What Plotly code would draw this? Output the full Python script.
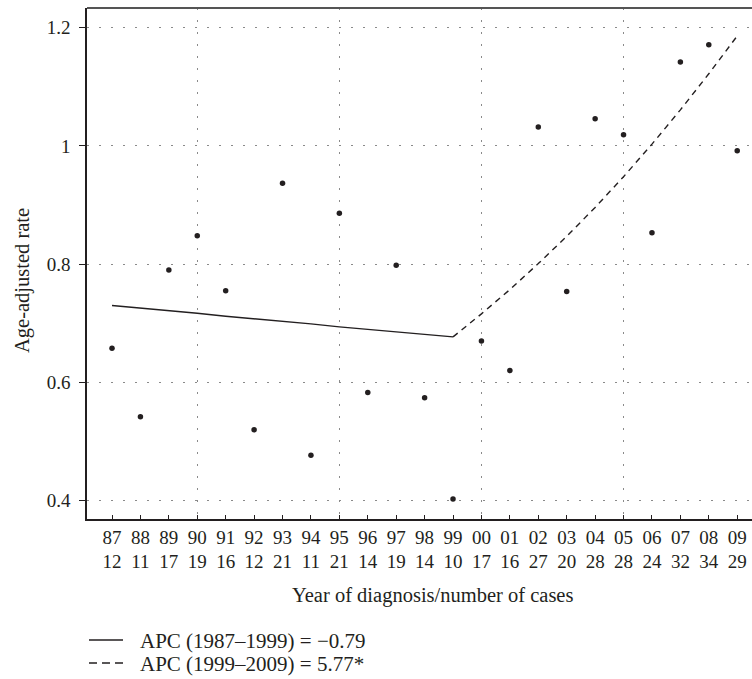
import plotly.graph_objects as go

# ---- data ----
years = list(range(1987, 2010))
year_labels = ["87", "88", "89", "90", "91", "92", "93", "94", "95", "96", "97", "98",
               "99", "00", "01", "02", "03", "04", "05", "06", "07", "08", "09"]
cases = [12, 11, 17, 19, 16, 12, 21, 11, 21, 14, 19, 14, 10, 17, 16, 27, 20, 28, 28, 24, 32, 34, 29]
rates = [0.658, 0.542, 0.790, 0.848, 0.755, 0.520, 0.937, 0.477, 0.886, 0.583, 0.798, 0.574,
         0.403, 0.670, 0.620, 1.032, 0.754, 1.046, 1.019, 0.853, 1.142, 1.171, 0.992]

fit1_years = list(range(1987, 2000))
fit1_values = [0.730, 0.726, 0.721, 0.717, 0.712, 0.708, 0.703, 0.699, 0.694, 0.690, 0.686, 0.681, 0.677]
fit2_years = list(range(1999, 2010))
fit2_values = [0.677, 0.716, 0.757, 0.801, 0.847, 0.896, 0.948, 1.003, 1.061, 1.122, 1.186]

grid_years = [1990, 1995, 2000, 2005]
y_ticks = [0.4, 0.6, 0.8, 1.0, 1.2]

legend1 = "APC (1987–1999) = −0.79"
legend2 = "APC (1999–2009) = 5.77*"

FONT = "Liberation Serif"
INK = "#231f20"
SOLID = dict(color=INK, width=1.4)
DASHED = dict(color=INK, width=1.4, dash="6px,5px")

fig = go.Figure()
fig.add_trace(go.Scatter(x=fit1_years, y=fit1_values, mode="lines", name=legend1,
                         showlegend=False, line=SOLID))
fig.add_trace(go.Scatter(x=fit2_years, y=fit2_values, mode="lines", name=legend2,
                         showlegend=False, line=DASHED))
fig.add_trace(go.Scatter(x=years, y=rates, mode="markers", showlegend=False,
                         xaxis="x2", marker=dict(color=INK, size=5.5)))

ticktext = [f"{a}<br>{b}" for a, b in zip(year_labels, cases)]
x_range = [1986.12, 2009.52]

# plot area geometry in pixels (for the hand-drawn key below the chart)
L, T, W, H = 87, 8, 665, 511


def px_x(p):
    return (p - L) / W


def px_y(p):
    return (T + H - p) / H


shapes = [
    dict(type="line", xref="paper", yref="paper", x0=px_x(89), x1=px_x(123),
         y0=px_y(640), y1=px_y(640), line=SOLID),
    dict(type="line", xref="paper", yref="paper", x0=px_x(89), x1=px_x(123),
         y0=px_y(663), y1=px_y(663), line=dict(color=INK, width=1.4, dash="8px,5px")),
    # top frame line (greyer than the axes)
    dict(type="line", xref="paper", yref="paper", x0=0, x1=1, y0=1, y1=1,
         line=dict(color="#555555", width=2)),
]

annotations = [
    dict(text="Age-adjusted rate", textangle=-90, xref="paper", yref="paper",
         x=px_x(22), y=px_y(281), xanchor="center", yanchor="middle", showarrow=False,
         font=dict(family=FONT, size=20.5, color=INK)),
    dict(text="Year of diagnosis/number of cases", xref="paper", yref="paper",
         x=px_x(432), y=px_y(595), xanchor="center", yanchor="middle", showarrow=False,
         font=dict(family=FONT, size=20.5, color=INK)),
    dict(text=legend1, xref="paper", yref="paper", x=px_x(138), y=px_y(641),
         xanchor="left", yanchor="middle", showarrow=False,
         font=dict(family=FONT, size=21, color=INK)),
    dict(text=legend2, xref="paper", yref="paper", x=px_x(138), y=px_y(664),
         xanchor="left", yanchor="middle", showarrow=False,
         font=dict(family=FONT, size=21, color=INK)),
]

fig.update_layout(
    width=752, height=679,
    margin=dict(l=L, r=0, t=T, b=679 - T - H),
    paper_bgcolor="white", plot_bgcolor="white",
    font=dict(family=FONT, size=19, color=INK),
    showlegend=False,
    xaxis=dict(range=x_range, tickmode="array", tickvals=years, ticktext=ticktext,
               ticks="inside", ticklen=4, tickcolor=INK, tickwidth=1.2,
               showgrid=False, zeroline=False,
               showline=True, linecolor=INK, linewidth=1.6,
               tickfont=dict(family=FONT, size=19, color=INK)),
    xaxis2=dict(range=x_range, overlaying="x", matches="x", tickmode="array",
                tickvals=grid_years, showticklabels=False, ticks="",
                showgrid=True, gridcolor="#8a8a8a", gridwidth=1.3, griddash="1.5px,10.5px",
                zeroline=False, showline=False),
    yaxis=dict(range=[0.369, 1.2333], tickmode="array", tickvals=y_ticks,
               ticks="outside", ticklen=6, tickcolor=INK, tickwidth=1.2,
               ticklabelstandoff=5,
               showgrid=True, gridcolor="#8a8a8a", gridwidth=1.3, griddash="1.5px,10.5px",
               zeroline=False, showline=True, linecolor=INK, linewidth=1.6,
               tickfont=dict(family=FONT, size=19, color=INK)),
    shapes=shapes,
    annotations=annotations,
)

fig.write_html("out.html", config={"displayModeBar": False},
               post_script="document.body.style.margin='0px';")
